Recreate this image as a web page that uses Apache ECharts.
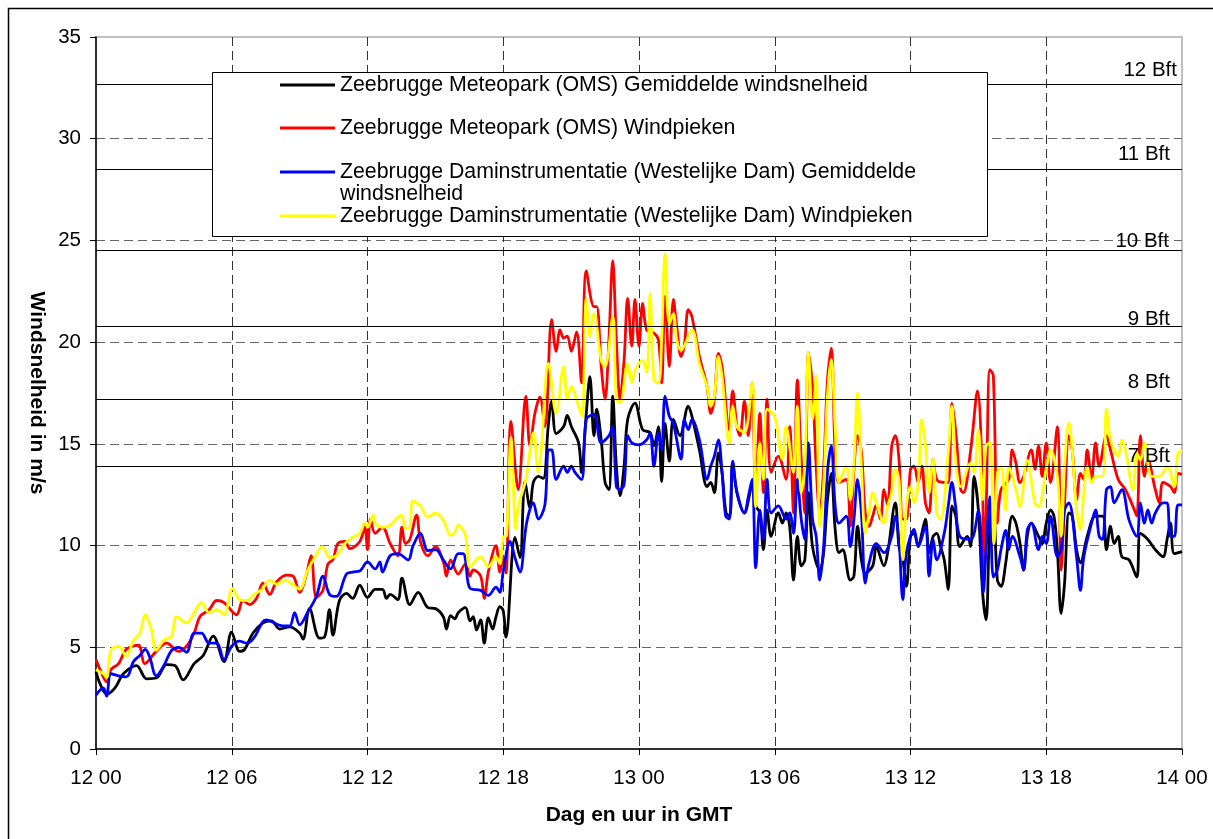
<!DOCTYPE html>
<html>
<head>
<meta charset="utf-8">
<script src="https://cdn.jsdelivr.net/npm/echarts@6/dist/echarts.min.js"></script>
<style>html,body{margin:0;padding:0;background:#fff}#c{width:1213px;height:839px}</style>
</head>
<body>
<div id="c"></div>
<script>
// ---- data (hours since 12 00 GMT, wind speed m/s) ----
const tickLabels = ['12 00','12 06','12 12','12 18','13 00','13 06','13 12','13 18','14 00'];
const seriesNames = [
  'Zeebrugge Meteopark (OMS) Gemiddelde windsnelheid',
  'Zeebrugge Meteopark (OMS) Windpieken',
  'Zeebrugge Daminstrumentatie (Westelijke Dam) Gemiddelde windsnelheid',
  'Zeebrugge Daminstrumentatie (Westelijke Dam) Windpieken'
];
const bftLevels = [13.9, 17.2, 20.8, 24.5, 28.5, 32.7];
const bftNames = ['7 Bft', '8 Bft', '9 Bft', '10 Bft', '11 Bft', '12 Bft'];

const meteoparkMean = [[0,3.8],[0.18,3.2],[0.47,2.7],[0.84,3.0],[1.21,3.7],[1.79,4.1],[2.24,3.45],[2.68,3.5],[3.12,4.15],[3.49,4.1],[3.85,3.4],[4.34,4.2],[4.74,4.6],[5.18,5.55],[5.66,4.3],[5.99,5.75],[6.35,4.8],[6.57,4.9],[6.94,5.7],[7.38,6.2],[7.75,6.3],[8.12,5.9],[8.56,6.0],[9.0,5.7],[9.15,5.4],[9.44,6.9],[9.88,5.45],[10.1,5.5],[10.32,6.85],[10.47,5.6],[10.76,7.3],[11.07,7.65],[11.34,7.4],[11.66,8.05],[12.0,7.45],[12.34,7.85],[12.66,7.85],[12.84,7.4],[13.0,7.6],[13.34,7.35],[13.52,8.4],[13.87,7.1],[14.24,7.7],[14.67,6.95],[15.01,6.9],[15.35,6.5],[15.49,5.9],[15.67,6.55],[15.86,6.4],[16.01,6.7],[16.33,6.95],[16.53,6.3],[16.67,6.5],[16.82,5.85],[17.0,6.35],[17.16,5.2],[17.34,6.45],[17.53,5.9],[17.68,6.5],[17.85,7.0],[18.0,6.8],[18.12,5.5],[18.52,10.4],[18.74,9.4],[18.96,13.15],[19.18,11.85],[19.33,13.1],[19.55,13.4],[19.77,13.3],[19.99,15.9],[20.14,17.1],[20.34,15.5],[20.67,15.85],[20.83,16.4],[21.01,15.85],[21.33,15.05],[21.46,13.6],[21.67,16.5],[21.83,18.3],[22.01,15.4],[22.13,16.7],[22.33,15.2],[22.5,13.1],[22.67,12.75],[22.84,17.35],[23.0,13.9],[23.16,12.45],[23.34,13.9],[23.5,16.2],[23.82,17.0],[24.16,15.7],[24.49,15.55],[24.66,14.9],[24.86,15.85],[25.0,13.15],[25.15,16.0],[25.34,14.15],[25.52,16.2],[25.81,15.4],[26.18,16.85],[26.34,16.35],[26.67,14.7],[27.01,12.9],[27.17,13.1],[27.33,12.6],[27.51,14.55],[27.67,13.6],[27.85,11.6],[28.01,11.45],[28.14,14.05],[28.33,12.6],[28.66,11.6],[29.0,12.9],[29.16,11.95],[29.34,11.6],[29.5,9.8],[29.66,11.75],[29.84,10.45],[30.16,11.6],[30.34,11.1],[30.5,11.6],[30.66,10.95],[30.83,8.3],[31.0,10.45],[31.17,9.0],[31.33,9.3],[31.49,12.6],[31.67,9.95],[31.99,8.8],[32.16,9.65],[32.33,12.25],[32.5,13.55],[32.67,10.8],[32.84,9.65],[33.0,9.8],[33.34,8.3],[33.5,8.5],[33.66,10.95],[33.83,9.3],[34.0,8.65],[34.33,9.0],[34.49,9.95],[34.83,9.0],[34.99,9.65],[35.33,12.1],[35.49,9.95],[35.66,9.3],[35.82,8.0],[36.0,10.45],[36.16,10.6],[36.34,9.95],[36.5,10.6],[36.66,11.3],[36.82,9.65],[37.0,10.45],[37.16,10.6],[37.33,9.95],[37.49,9.3],[37.67,7.85],[37.83,11.95],[38.0,11.45],[38.18,9.95],[38.51,10.45],[38.66,9.95],[38.81,13.4],[39.0,11.75],[39.18,7.8],[39.34,6.35],[39.51,11.1],[39.66,11.75],[39.84,8.3],[40.0,8.0],[40.21,9.15],[40.5,11.45],[40.66,11.1],[40.84,10.1],[41.0,8.8],[41.16,10.45],[41.34,11.1],[41.66,10.45],[41.82,10.1],[42.0,11.1],[42.19,11.75],[42.34,11.45],[42.49,9.8],[42.66,6.65],[42.81,8.15],[43.0,11.6],[43.15,11.45],[43.34,9.8],[43.51,9.15],[43.81,10.45],[44.18,11.45],[44.49,11.45],[44.66,9.8],[44.84,10.95],[45.0,10.1],[45.18,10.45],[45.34,9.45],[45.66,9.3],[46.0,8.45],[46.16,10.6],[46.49,10.3],[46.82,9.8],[47.16,9.45],[47.34,10.3],[47.49,11.1],[47.66,9.6],[48.0,9.7]];

const meteoparkGust = [[0,4.4],[0.18,3.9],[0.47,3.3],[0.66,3.9],[1.0,4.2],[1.34,4.9],[1.87,5.1],[2.16,4.2],[2.66,4.8],[3.12,5.2],[3.66,4.8],[4.0,5.05],[4.34,5.7],[4.59,6.5],[5.0,6.85],[5.34,7.3],[5.66,7.2],[6.21,6.6],[6.5,7.3],[6.79,7.1],[7.09,7.4],[7.38,8.15],[7.68,7.6],[7.97,8.2],[8.41,8.55],[8.71,8.5],[9.0,7.7],[9.29,8.55],[9.51,9.5],[9.74,7.45],[10.03,7.8],[10.25,9.1],[10.47,9.3],[10.69,10.1],[11.0,10.2],[11.22,9.85],[11.66,10.2],[11.88,10.9],[12.0,9.8],[12.13,11.3],[12.34,10.6],[12.66,10.9],[13.0,10.1],[13.34,9.5],[13.52,10.9],[13.67,10.1],[13.87,10.3],[14.17,11.5],[14.34,10.2],[14.67,9.5],[15.01,9.95],[15.35,9.2],[15.49,8.5],[15.67,9.3],[16.01,8.6],[16.33,9.1],[16.53,8.5],[16.67,8.8],[17.0,8.5],[17.16,7.4],[17.34,8.7],[17.68,10.0],[17.85,8.7],[18.0,9.45],[18.12,8.65],[18.34,16.1],[18.66,12.75],[19.0,17.35],[19.18,14.9],[19.4,16.5],[19.62,17.3],[19.84,15.85],[20.14,21.1],[20.34,19.55],[20.51,20.6],[20.67,20.2],[20.83,20.3],[21.01,19.55],[21.24,20.5],[21.46,18.0],[21.67,23.5],[22.01,21.75],[22.13,21.75],[22.33,18.8],[22.5,17.2],[22.67,20.1],[22.84,24.0],[23.0,20.1],[23.16,17.2],[23.34,19.1],[23.5,22.15],[23.68,19.8],[23.82,22.1],[24.0,19.8],[24.16,21.9],[24.34,20.6],[24.66,20.45],[24.86,20.1],[25.0,18.0],[25.15,22.25],[25.34,18.8],[25.52,22.1],[25.67,20.75],[25.86,19.3],[26.0,19.8],[26.18,21.6],[26.34,21.25],[26.67,19.3],[27.01,17.8],[27.17,16.5],[27.33,17.2],[27.51,19.45],[27.67,18.8],[27.99,15.7],[28.14,17.6],[28.33,15.85],[28.46,15.4],[28.66,17.1],[28.83,15.4],[29.0,18.0],[29.16,12.25],[29.34,16.5],[29.5,12.6],[29.66,17.2],[29.84,13.6],[30.16,14.4],[30.5,13.25],[30.66,15.85],[30.83,11.6],[31.0,18.15],[31.17,14.25],[31.33,11.6],[31.49,19.5],[31.67,17.8],[31.83,13.9],[31.99,11.6],[32.16,13.75],[32.33,18.15],[32.5,19.7],[32.67,14.55],[32.84,13.1],[33.16,13.25],[33.34,10.95],[33.5,13.75],[33.66,15.4],[33.83,14.6],[34.0,11.6],[34.17,10.95],[34.33,11.45],[34.49,12.0],[34.67,11.3],[34.83,12.75],[34.99,11.95],[35.17,14.9],[35.33,15.4],[35.49,14.25],[35.66,11.3],[35.82,11.3],[36.0,13.75],[36.16,13.9],[36.34,13.1],[36.5,13.9],[36.66,12.1],[36.82,11.6],[37.0,14.25],[37.16,13.25],[37.49,13.1],[37.67,13.1],[37.83,17.0],[37.99,15.7],[38.22,12.75],[38.34,12.6],[38.66,14.7],[38.96,17.6],[39.18,13.1],[39.25,8.5],[39.34,11.45],[39.51,18.65],[39.66,18.35],[39.84,11.1],[40.0,12.75],[40.34,13.25],[40.5,14.7],[40.66,14.05],[40.84,13.1],[41.0,13.4],[41.34,14.7],[41.5,13.75],[41.66,14.9],[41.82,13.4],[42.0,15.05],[42.19,13.1],[42.49,15.85],[42.66,8.8],[42.81,12.1],[43.0,15.4],[43.15,14.7],[43.34,12.25],[43.51,13.55],[43.66,13.25],[43.81,14.7],[44.0,13.25],[44.18,15.05],[44.34,13.9],[44.66,15.4],[44.84,14.7],[45.18,13.25],[45.5,12.75],[45.84,11.9],[46.0,11.45],[46.16,15.4],[46.34,13.4],[46.49,14.2],[46.82,12.75],[47.0,12.1],[47.16,13.1],[47.49,12.9],[47.66,12.6],[47.82,13.55],[48.0,13.5]];

const damMean = [[0,2.65],[0.32,3.0],[0.47,2.6],[0.66,3.7],[1.0,3.6],[1.34,3.55],[1.66,4.3],[1.94,4.6],[2.18,4.9],[2.38,4.5],[2.66,3.6],[3.0,4.1],[3.34,4.85],[3.66,5.0],[4.0,4.75],[4.34,5.7],[4.66,5.7],[5.0,5.2],[5.34,5.2],[5.66,4.4],[6.0,5.05],[6.34,5.3],[6.68,5.2],[7.0,5.5],[7.53,6.35],[8.26,6.05],[8.56,6.05],[8.78,6.7],[9.0,6.1],[9.37,6.75],[9.74,7.5],[10.03,8.5],[10.32,7.6],[10.62,7.5],[11.07,8.6],[11.34,8.7],[11.66,8.75],[12.0,9.2],[12.34,8.85],[12.55,9.2],[12.66,8.7],[13.0,9.5],[13.34,9.6],[13.8,9.3],[14.0,9.95],[14.34,10.6],[14.67,9.75],[15.01,9.8],[15.35,9.3],[15.67,8.85],[16.01,9.6],[16.23,9.6],[16.33,9.3],[16.53,7.9],[17.0,7.8],[17.34,7.55],[17.68,7.95],[17.85,7.7],[18.0,8.75],[18.3,10.2],[18.52,9.4],[18.74,8.7],[19.03,11.1],[19.33,12.1],[19.55,11.3],[19.84,12.0],[20.0,14.7],[20.14,14.7],[20.34,13.25],[20.67,13.9],[20.83,13.6],[21.01,13.9],[21.17,13.6],[21.46,13.25],[21.67,16.2],[22.01,16.45],[22.33,15.05],[22.67,15.4],[22.84,15.85],[23.0,12.9],[23.16,12.75],[23.34,13.0],[23.5,15.4],[23.68,15.05],[24.0,14.95],[24.34,15.2],[24.49,15.55],[24.66,13.9],[24.86,15.55],[25.0,14.7],[25.15,17.35],[25.34,16.35],[25.52,16.0],[25.86,14.25],[26.0,16.2],[26.18,15.7],[26.34,16.2],[26.67,15.2],[27.01,13.25],[27.17,13.9],[27.33,14.4],[27.51,15.2],[27.67,13.6],[27.83,11.45],[27.99,11.3],[28.14,14.15],[28.33,12.6],[28.66,11.6],[28.83,12.4],[29.0,13.25],[29.16,8.9],[29.34,11.75],[29.5,10.3],[29.66,13.25],[29.84,11.6],[30.16,11.95],[30.5,11.3],[30.66,11.6],[30.83,10.6],[31.0,13.25],[31.17,11.3],[31.33,10.3],[31.49,15.05],[31.67,11.3],[31.83,10.45],[31.99,8.3],[32.16,9.95],[32.33,13.6],[32.5,14.9],[32.67,11.95],[32.84,11.1],[33.16,11.45],[33.34,9.95],[33.5,11.3],[33.66,13.25],[33.83,11.6],[34.0,8.15],[34.17,9.15],[34.49,10.1],[34.83,9.65],[35.17,10.45],[35.33,11.45],[35.49,10.3],[35.66,7.35],[35.82,9.65],[36.16,10.8],[36.34,9.95],[36.66,10.95],[36.82,8.5],[37.0,10.3],[37.16,9.3],[37.49,10.6],[37.67,11.95],[37.83,13.1],[37.99,11.95],[38.18,10.45],[38.66,10.3],[39.0,11.75],[39.22,7.7],[39.34,9.8],[39.51,12.4],[39.66,8.45],[39.84,8.8],[40.0,9.8],[40.21,10.75],[40.34,9.8],[40.5,10.45],[40.84,9.45],[41.0,8.8],[41.16,10.75],[41.34,11.1],[41.66,9.8],[41.82,10.45],[42.0,10.1],[42.19,11.45],[42.49,9.45],[42.66,9.8],[42.81,11.75],[43.0,12.1],[43.34,9.45],[43.51,7.8],[43.66,9.45],[44.0,11.1],[44.18,11.75],[44.34,10.45],[44.49,10.3],[44.66,12.75],[44.84,12.9],[45.0,12.1],[45.34,12.75],[45.66,11.25],[46.0,10.45],[46.16,12.1],[46.34,11.1],[46.49,11.75],[46.66,11.1],[46.82,11.6],[47.16,12.1],[47.34,12.1],[47.49,10.45],[47.66,10.45],[47.82,12.0],[48.0,12.0]];

const damGust = [[0,3.9],[0.32,3.7],[0.47,3.5],[0.66,4.85],[1.0,5.05],[1.34,4.55],[1.66,5.35],[1.94,5.7],[2.18,6.6],[2.46,5.8],[2.66,4.85],[3.0,5.35],[3.34,5.55],[3.56,6.5],[4.0,6.2],[4.34,6.7],[4.66,7.2],[5.0,6.7],[5.34,6.85],[5.66,6.6],[6.03,7.9],[6.34,7.35],[6.68,7.3],[7.0,7.6],[7.34,7.85],[7.68,8.3],[8.0,8.1],[8.34,8.3],[8.68,8.1],[9.0,7.85],[9.34,8.75],[9.66,9.4],[10.0,9.95],[10.34,9.4],[10.66,9.55],[11.0,10.1],[11.34,10.4],[11.66,10.6],[11.88,11.1],[12.0,10.9],[12.25,11.5],[12.34,11.1],[12.66,10.9],[13.0,11.0],[13.34,11.4],[13.52,11.5],[13.67,10.85],[13.87,10.9],[14.0,12.2],[14.34,11.95],[14.67,11.4],[15.01,11.6],[15.35,11.25],[15.67,10.5],[15.86,10.65],[16.01,11.0],[16.33,10.5],[16.53,8.95],[17.0,9.45],[17.34,8.95],[17.68,9.45],[17.85,9.1],[18.0,10.4],[18.15,10.5],[18.34,15.3],[18.56,10.8],[18.66,11.9],[19.0,13.25],[19.34,15.55],[19.55,13.6],[19.67,14.55],[20.0,18.95],[20.34,16.5],[20.67,18.8],[20.83,17.2],[21.01,17.8],[21.33,16.85],[21.49,16.35],[21.67,22.15],[21.83,20.3],[22.01,21.4],[22.33,19.1],[22.5,18.8],[22.84,21.25],[23.0,17.2],[23.16,17.0],[23.5,18.95],[23.68,18.0],[23.82,18.6],[24.16,19.1],[24.34,18.5],[24.49,22.4],[24.66,18.15],[24.86,18.0],[25.0,20.1],[25.15,24.35],[25.34,20.9],[25.52,21.4],[25.67,20.1],[25.86,19.6],[26.34,20.6],[26.67,18.95],[27.01,17.8],[27.17,16.85],[27.33,17.35],[27.51,19.3],[27.67,18.3],[27.99,15.05],[28.14,16.85],[28.33,15.85],[28.66,15.55],[29.0,18.0],[29.16,11.9],[29.34,15.05],[29.5,13.25],[29.66,16.7],[30.0,16.35],[30.34,14.25],[30.5,15.85],[30.83,13.6],[31.0,16.85],[31.17,12.6],[31.33,13.9],[31.49,19.5],[31.67,16.2],[31.83,18.35],[31.99,10.95],[32.16,12.9],[32.33,17.35],[32.5,19.15],[32.67,15.85],[32.84,13.1],[33.16,13.9],[33.34,12.25],[33.5,14.05],[33.66,17.5],[33.83,13.9],[34.0,10.6],[34.17,11.6],[34.33,12.6],[34.49,12.1],[34.83,11.1],[34.99,11.95],[35.17,12.6],[35.33,13.75],[35.49,13.25],[35.66,9.3],[35.82,11.95],[36.0,12.9],[36.16,12.1],[36.34,13.1],[36.5,16.2],[36.66,14.9],[36.82,12.6],[37.0,14.25],[37.16,11.6],[37.33,11.3],[37.67,14.55],[37.83,16.85],[37.99,14.25],[38.22,12.9],[38.66,14.05],[38.81,13.6],[39.0,15.7],[39.18,12.25],[39.34,14.9],[39.51,15.05],[39.69,10.1],[39.84,13.55],[40.0,13.9],[40.21,11.75],[40.34,13.9],[40.66,12.75],[40.84,11.9],[41.16,14.2],[41.5,12.1],[41.66,11.9],[42.0,13.75],[42.19,14.7],[42.49,13.4],[42.66,10.45],[42.81,13.9],[43.0,16.05],[43.15,14.7],[43.34,11.75],[43.51,10.8],[43.66,12.6],[43.81,13.9],[44.0,13.1],[44.18,13.4],[44.49,13.4],[44.66,16.7],[44.84,15.2],[45.18,14.4],[45.34,15.2],[45.5,14.7],[45.84,12.75],[46.0,14.55],[46.16,14.2],[46.34,15.05],[46.66,13.4],[47.0,13.4],[47.34,13.9],[47.66,12.9],[47.82,14.55],[48.0,14.65]];

// ---- styling ----
const FONT = '"Liberation Sans", Arial, sans-serif';
const colors = ['#000000', '#ff0000', '#0000ff', '#ffff00'];
const seriesData = [meteoparkMean, meteoparkGust, damMean, damGust];
const legendTops = [74, 117, 139, 205];
// per-label [dx, dy] offsets for the Beaufort labels (order matches bftLevels)
const bftLabelOffsets = [[12, -1], [12, 6], [12, -4], [13, -1], [12, 4.5], [5, 2.5]];

const chart = echarts.init(document.getElementById('c'), null, {renderer: 'canvas'});

const series = seriesData.map((d, i) => ({
  name: seriesNames[i],
  type: 'line',
  data: d,
  showSymbol: false,
  smooth: 0.35,
  color: colors[i],
  lineStyle: {color: colors[i], width: 2.8},
  z: 2 + i * 0.01,
  animation: false
}));

series[0].markLine = {
  silent: true,
  symbol: ['none', 'none'],
  animation: false,
  lineStyle: {color: '#000', width: 1, type: 'solid'},
  label: {
    show: true,
    position: 'insideEndTop',
    formatter: '{b}',
    color: '#000',
    fontSize: 20.5,
    fontFamily: FONT
  },
  data: bftLevels.map((v, i) => ({
    yAxis: v,
    name: bftNames[i],
    label: {distance: bftLabelOffsets[i]}
  }))
};

const legends = seriesNames.map((n, i) => ({
  data: [n],
  left: 280,
  top: legendTops[i],
  orient: 'vertical',
  padding: 0,
  itemWidth: 55,
  itemHeight: 3,
  icon: 'rect',
  selectedMode: false,
  z: 20,
  textStyle: {fontSize: 21.3, color: '#000', fontFamily: FONT, lineHeight: 22},
  formatter: i === 2 ? (name) => '\n' + name.replace(' windsnelheid', '\nwindsnelheid') : '{name}'
}));

chart.setOption({
  animation: false,
  backgroundColor: '#ffffff',
  grid: {left: 96, right: 31, top: 37, bottom: 90, show: true, borderColor: '#c0c0c0', borderWidth: 2, backgroundColor: 'transparent'},
  legend: legends,
  graphic: {
    elements: [
      {type: 'rect', z: 10, shape: {x: 212.5, y: 72.5, width: 775, height: 164}, style: {fill: '#fff', stroke: '#000', lineWidth: 1}},
      {type: 'rect', z: 0, silent: true, shape: {x: 8.5, y: 8.5, width: 1220, height: 850}, style: {fill: null, stroke: '#000', lineWidth: 1.5}}
    ]
  },
  xAxis: {
    type: 'value',
    min: 0, max: 48, interval: 6,
    name: 'Dag en uur in GMT',
    nameLocation: 'middle',
    nameGap: 56,
    nameTextStyle: {fontSize: 21, fontWeight: 'bold', color: '#000', fontFamily: FONT},
    axisLine: {show: true, onZero: false, lineStyle: {color: '#000', width: 1.5}},
    axisTick: {show: true, inside: false, length: 6, lineStyle: {color: '#000'}},
    axisLabel: {
      fontSize: 20.5, color: '#000', fontFamily: FONT, margin: 19,
      formatter: (v) => tickLabels[Math.round(v / 6)]
    },
    splitLine: {show: true, showMinLine: false, showMaxLine: false, lineStyle: {type: [9, 5], color: '#333', width: 1}}
  },
  yAxis: {
    type: 'value',
    min: 0, max: 35, interval: 5,
    name: 'Windsnelheid in m/s',
    nameLocation: 'middle',
    nameRotate: -90,
    nameGap: 48,
    nameTextStyle: {fontSize: 21, fontWeight: 'bold', color: '#000', fontFamily: FONT},
    axisLine: {show: true, lineStyle: {color: '#000', width: 1.5}},
    axisTick: {show: true, inside: false, length: 6, lineStyle: {color: '#000'}},
    axisLabel: {fontSize: 20.5, color: '#000', fontFamily: FONT, margin: 15},
    splitLine: {show: true, showMinLine: false, showMaxLine: false, lineStyle: {type: [9, 5], color: '#666', width: 1}}
  },
  series: series
});
</script>
</body>
</html>
